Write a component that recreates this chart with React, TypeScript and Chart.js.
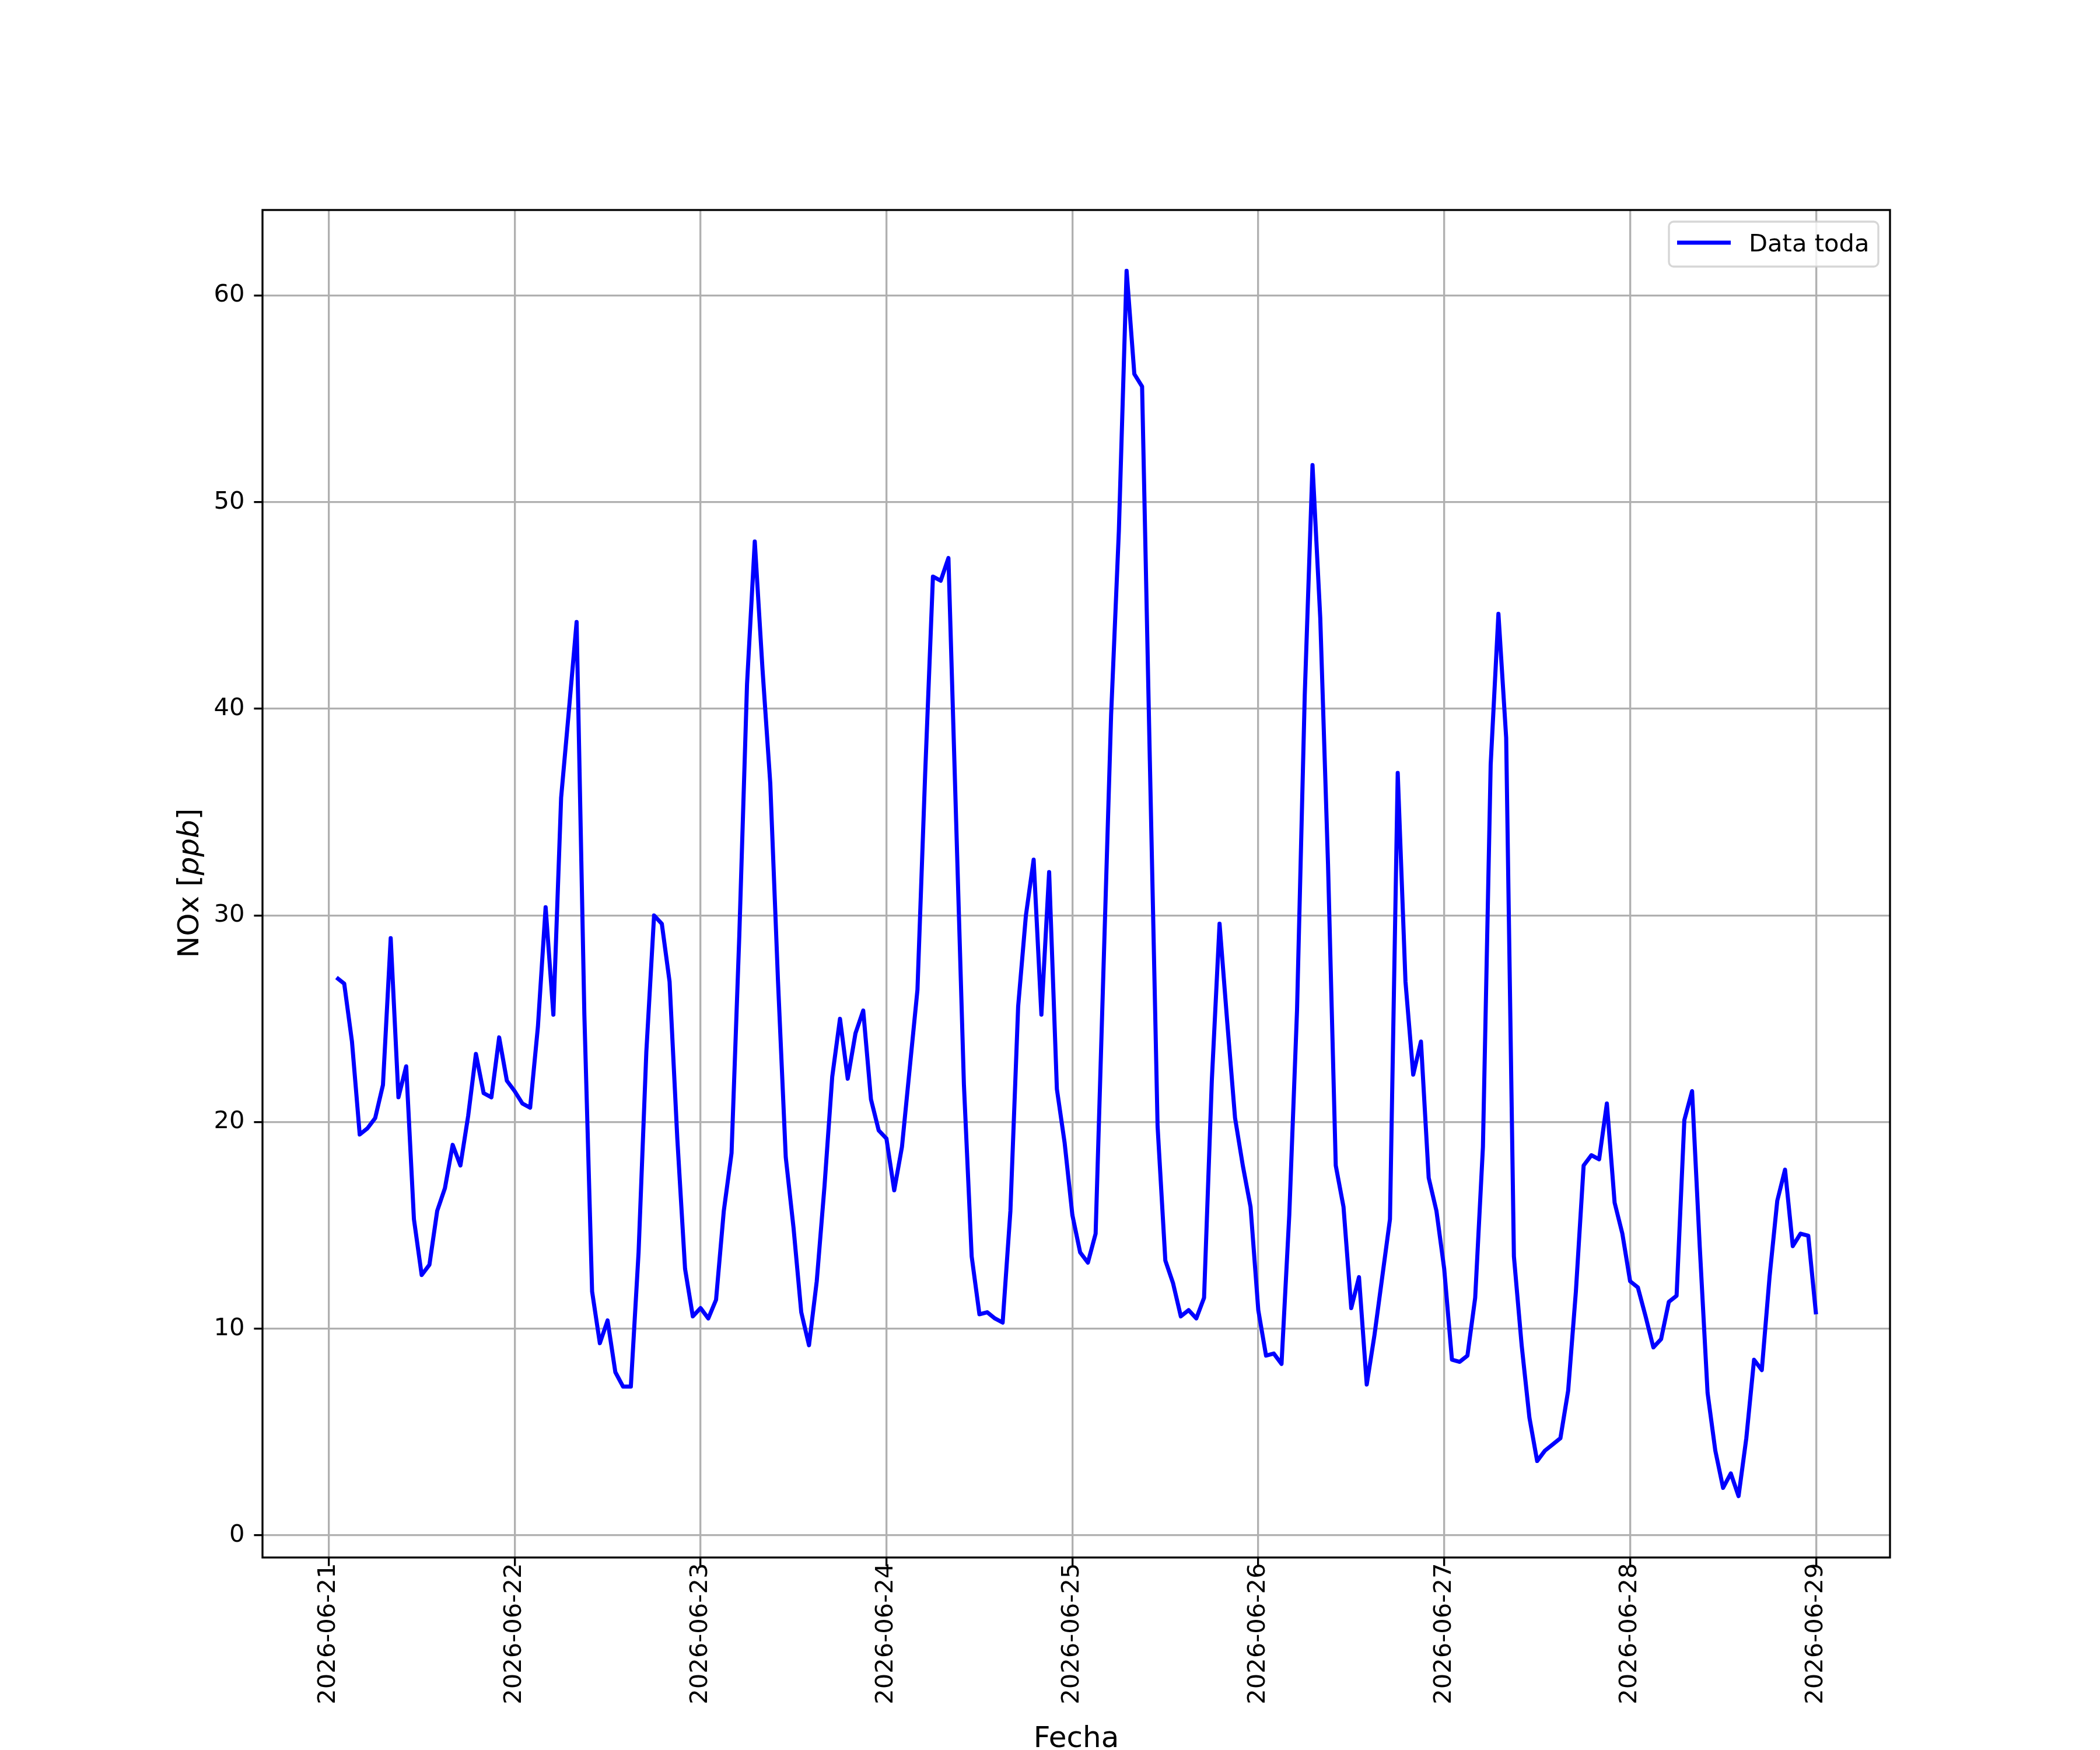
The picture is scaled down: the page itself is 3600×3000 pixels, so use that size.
import { useEffect, useRef } from 'react'
import { Chart, registerables } from 'chart.js'

Chart.register(...registerables)

// hourly NOx readings, one array per day (01:00 .. 24:00)
const nox21 = [27.0, 26.7, 23.9, 19.4, 19.7, 20.2, 21.8, 28.9, 21.2, 22.7, 15.3, 12.6, 13.1, 15.7, 16.8, 18.9, 17.9, 20.3, 23.3, 21.4, 21.2, 24.1, 22.0, 21.5]
const nox22 = [20.9, 20.7, 24.6, 30.4, 25.2, 35.7, 39.9, 44.2, 25.2, 11.8, 9.3, 10.4, 7.9, 7.2, 7.2, 13.7, 23.4, 30.0, 29.6, 26.8, 19.2, 12.9, 10.6, 11.0]
const nox23 = [10.5, 11.4, 15.7, 18.5, 29.0, 41.2, 48.1, 41.9, 36.4, 26.8, 18.3, 14.9, 10.8, 9.2, 12.3, 16.9, 22.2, 25.0, 22.1, 24.3, 25.4, 21.1, 19.6, 19.2]
const nox24 = [16.7, 18.8, 22.6, 26.4, 36.9, 46.4, 46.2, 47.3, 34.5, 21.8, 13.5, 10.7, 10.8, 10.5, 10.3, 15.7, 25.6, 30.0, 32.7, 25.2, 32.1, 21.6, 19.0, 15.5]
const nox25 = [13.7, 13.2, 14.6, 27.2, 39.7, 48.6, 61.2, 56.2, 55.6, 37.5, 19.8, 13.3, 12.2, 10.6, 10.9, 10.5, 11.5, 22.0, 29.6, 24.8, 20.2, 17.9, 15.9, 10.9]
const nox26 = [8.7, 8.8, 8.3, 15.5, 25.4, 40.7, 51.8, 44.4, 32.5, 17.9, 15.9, 11.0, 12.5, 7.3, 9.7, 12.5, 15.3, 36.9, 26.8, 22.3, 23.9, 17.3, 15.7, 12.9]
const nox27 = [8.5, 8.4, 8.7, 11.5, 18.8, 37.3, 44.6, 38.6, 13.5, 9.2, 5.7, 3.6, 4.1, 4.4, 4.7, 7.0, 11.8, 17.9, 18.4, 18.2, 20.9, 16.1, 14.6, 12.3]
const nox28 = [12.0, 10.6, 9.1, 9.5, 11.3, 11.6, 20.1, 21.5, 13.9, 6.9, 4.1, 2.3, 3.0, 1.9, 4.7, 8.5, 8.0, 12.5, 16.2, 17.7, 14.0, 14.6, 14.5, 10.7]

const dateLabels = ['2026-06-21', '2026-06-22', '2026-06-23', '2026-06-24', '2026-06-25', '2026-06-26', '2026-06-27', '2026-06-28', '2026-06-29']
const dayTicks = [0, 24, 48, 72, 96, 120, 144, 168, 192]
const yTicks = [0, 10, 20, 30, 40, 50, 60]
const seriesName = 'Data toda'

const FONT = 'DejaVu Sans'
const FS = 41.67 // 10pt @ 300dpi
const FS_LABEL = 50 // 12pt

const allNox = [...nox21, ...nox22, ...nox23, ...nox24, ...nox25, ...nox26, ...nox27, ...nox28]
// x = hours since 2026-06-21 00:00, first reading at 01:00
const points = allNox.map((v, i) => ({ x: i + 1, y: v }))

const decorations = {
  id: 'mplDecorations',
  afterDraw(chart: Chart) {
    const ctx = chart.ctx
    const a = chart.chartArea

    // frame (all four spines)
    ctx.save()
    ctx.strokeStyle = '#000'
    ctx.lineWidth = 3.33
    ctx.strokeRect(a.left, a.top, a.right - a.left, a.bottom - a.top)
    ctx.restore()

    // legend box
    ctx.save()
    ctx.beginPath()
    ctx.roundRect(2861, 380, 359, 77, 8)
    ctx.fillStyle = 'rgba(255,255,255,0.8)'
    ctx.fill()
    ctx.strokeStyle = 'rgba(204,204,204,0.8)'
    ctx.lineWidth = 3.33
    ctx.stroke()
    ctx.beginPath()
    ctx.moveTo(2875, 416)
    ctx.lineTo(2967, 416)
    ctx.strokeStyle = '#0000ff'
    ctx.lineWidth = 7
    ctx.stroke()
    ctx.fillStyle = '#000'
    ctx.font = `${FS}px "${FONT}"`
    ctx.textAlign = 'left'
    ctx.textBaseline = 'alphabetic'
    ctx.fillText(seriesName, 2998, 431)
    ctx.restore()

    // x title
    ctx.save()
    ctx.fillStyle = '#000'
    ctx.font = `${FS_LABEL}px "${FONT}"`
    ctx.textAlign = 'center'
    ctx.textBaseline = 'alphabetic'
    ctx.fillText('Fecha', (a.left + a.right) / 2, 2995)
    ctx.restore()

    // y title: NOx [$ppb$]
    ctx.save()
    ctx.fillStyle = '#000'
    ctx.translate(340, 1514)
    ctx.rotate(-Math.PI / 2)
    ctx.textAlign = 'left'
    ctx.textBaseline = 'alphabetic'
    const parts: [string, string][] = [
      ['NOx [', `${FS_LABEL}px "${FONT}"`],
      ['ppb', `italic ${FS_LABEL}px "${FONT}"`],
      [']', `${FS_LABEL}px "${FONT}"`],
    ]
    let total = 0
    for (const [t, f] of parts) {
      ctx.font = f
      total += ctx.measureText(t).width
    }
    let x = -total / 2
    for (const [t, f] of parts) {
      ctx.font = f
      ctx.fillText(t, x, 0)
      x += ctx.measureText(t).width
    }
    ctx.restore()
  },
}

const NoxChart = () => {
  const canvasRef = useRef<HTMLCanvasElement | null>(null)
  const chartRef = useRef<Chart | null>(null)

  useEffect(() => {
    const ctx = canvasRef.current?.getContext('2d')
    if (!ctx) return

    chartRef.current = new Chart(ctx, {
      type: 'line',
      data: {
        datasets: [
          {
            label: seriesName,
            data: points,
            borderColor: '#0000ff',
            borderWidth: 7,
            pointRadius: 0,
            tension: 0,
            borderJoinStyle: 'round',
            fill: false,
          },
        ],
      },
      options: {
        animation: false,
        responsive: false,
        devicePixelRatio: 1,
        parsing: false,
        layout: { padding: { left: 0, top: 360, right: 360, bottom: 0 } },
        plugins: {
          legend: { display: false },
          tooltip: { enabled: false },
          title: { display: false },
        },
        scales: {
          x: {
            type: 'linear',
            min: -8.55,
            max: 201.55,
            afterBuildTicks: (s: any) => {
              s.ticks = dayTicks.map((v) => ({ value: v }))
            },
            afterFit: (s: any) => {
              s.height = 330
            },
            ticks: {
              autoSkip: false,
              minRotation: 90,
              maxRotation: 90,
              padding: -5,
              color: '#000',
              font: { family: FONT, size: FS },
              callback: (v: any) => dateLabels[dayTicks.indexOf(Number(v))] ?? '',
            },
            grid: {
              color: '#b0b0b0',
              lineWidth: 3.33,
              tickColor: '#000',
              tickWidth: 3.33,
              tickLength: 14.6,
            },
            border: { display: false },
          },
          y: {
            type: 'linear',
            min: -1.07,
            max: 64.14,
            afterBuildTicks: (s: any) => {
              s.ticks = yTicks.map((v) => ({ value: v }))
            },
            afterFit: (s: any) => {
              s.width = 450
            },
            ticks: {
              padding: 16,
              color: '#000',
              font: { family: FONT, size: FS },
              callback: (v: any) => String(v),
            },
            grid: {
              color: '#b0b0b0',
              lineWidth: 3.33,
              tickColor: '#000',
              tickWidth: 3.33,
              tickLength: 14.6,
            },
            border: { display: false },
          },
        },
      },
      plugins: [decorations],
    })

    return () => chartRef.current?.destroy()
  }, [])

  return (
    <div style={{ position: 'absolute', left: 0, top: 0, width: 3600, height: 3000, background: '#fff' }}>
      <canvas ref={canvasRef} width={3600} height={3000} style={{ width: 3600, height: 3000, display: 'block' }} />
    </div>
  )
}

export default function App() {
  return <NoxChart />
}
